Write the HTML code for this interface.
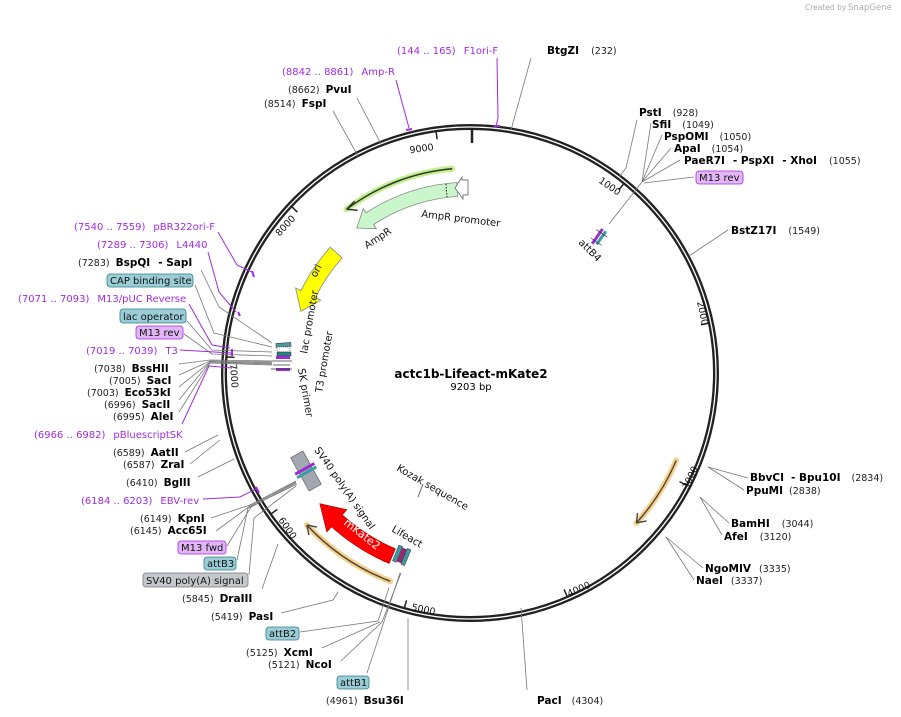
<!DOCTYPE html>
<html><head><meta charset="utf-8"><style>
html,body{margin:0;padding:0;background:#fff;}
svg{display:block;font-family:"DejaVu Sans","Liberation Sans",sans-serif;}
.b{font-weight:bold;font-size:10.5px;fill:#000}
.n{font-size:9.5px;fill:#222}
.p{font-size:10px;fill:#a02be0}
.l{stroke:#777;stroke-width:0.8;fill:none}
.pl{stroke:#a02be0;stroke-width:1;fill:none}
.f{font-size:10px;fill:#111}
.bx{font-size:10px;fill:#111}
</style></head><body>
<svg width="901" height="717" viewBox="0 0 901 717" xmlns="http://www.w3.org/2000/svg">
<text x="805" y="10" font-size="7.5" fill="#aaa">Created by</text><text x="848" y="10" font-size="8.5" fill="#aaa">SnapGene</text>

<circle cx="470" cy="373" r="246" fill="none" stroke="#222" stroke-width="6"/>
<circle cx="470" cy="373" r="246" fill="none" stroke="#fff" stroke-width="1.3"/>
<line x1="472" y1="128" x2="472" y2="143" stroke="#222" stroke-width="2.5"/>
<g stroke="#222" stroke-width="1.5">
<line x1="470" y1="129" x2="470" y2="137" transform="rotate(39.1 470 373)"/>
<line x1="470" y1="129" x2="470" y2="137" transform="rotate(78.2 470 373)"/>
<line x1="470" y1="129" x2="470" y2="137" transform="rotate(117.4 470 373)"/>
<line x1="470" y1="129" x2="470" y2="137" transform="rotate(156.5 470 373)"/>
<line x1="470" y1="129" x2="470" y2="137" transform="rotate(195.6 470 373)"/>
<line x1="470" y1="129" x2="470" y2="137" transform="rotate(234.7 470 373)"/>
<line x1="470" y1="129" x2="470" y2="137" transform="rotate(273.8 470 373)"/>
<line x1="470" y1="129" x2="470" y2="137" transform="rotate(313 470 373)"/>
<line x1="470" y1="129" x2="470" y2="137" transform="rotate(352 470 373)"/>
</g>
<g font-size="9.5" fill="#111">
<text x="434" y="150" text-anchor="end" transform="rotate(-8 434 150)">9000</text>
<text x="296" y="219" text-anchor="end" transform="rotate(-47 296 219)">8000</text>
<text x="230" y="364" transform="rotate(86 230 364)">7000</text>
<text x="278" y="520" transform="rotate(55 278 520)">6000</text>
<text x="411" y="610" transform="rotate(12 411 610)">5000</text>
<text x="569" y="597" transform="rotate(-24 569 597)">4000</text>
<text x="688" y="490" transform="rotate(-65 688 490)">3000</text>
<text x="697" y="302" transform="rotate(78 697 302)">2000</text>
<text x="598" y="182" transform="rotate(35 598 182)">1000</text>
</g>

<path d="M452.1,168.8 A205,205 0 0 0 346.6,209.3" fill="none" stroke="#bff08a" stroke-width="6" stroke-linecap="round"/>
<path d="M452.1,168.8 A205,205 0 0 0 346.6,209.3" fill="none" stroke="#333" stroke-width="1.5"/>
<path d="M346.6,209.3 l8,-8 M346.6,209.3 l11,1" stroke="#333" stroke-width="1.5"/>
<path d="M456.7,182.5 A191,191 0 0 0 366,212.8 L363.3,208.6 L356.7,228 L376.3,228.7 L373.6,224.5 A177,177 0 0 1 457.6,196.4 Z" fill="#c9f7cb" stroke="#888" stroke-width="0.8"/>
<line x1="446" y1="184" x2="447" y2="197" stroke="#222" stroke-dasharray="1.5,1.5"/>
<path d="M468,180 L468,195 L463,195 L463,199 L455,188 L462,177 L462,180 Z" fill="#fff" stroke="#777" stroke-width="0.9"/>
<text x="421" y="217" class="f" transform="rotate(7 421 217)">AmpR promoter</text>
<text x="367" y="249" class="f" transform="rotate(-33 367 249)">AmpR</text>
<path d="M330.3,247.2 A188,188 0 0 0 301,290.6 L295.6,288 L300.9,311.4 L320.8,300.2 L315.4,297.6 A172,172 0 0 1 342.2,257.9 Z" fill="#ffff00" stroke="#888" stroke-width="0.8"/>
<text x="316" y="278" class="f" transform="rotate(-62 316 278)">ori</text>
<text x="307" y="354" class="f" transform="rotate(-80 307 354)">lac promoter</text>
<text x="322" y="393" class="f" transform="rotate(-80 322 393)">T3 promoter</text>
<text x="298" y="369" class="f" transform="rotate(80 298 369)">SK primer</text>
<g>
<rect x="276" y="343" width="15" height="4" fill="#4a9aa6" stroke="#333" stroke-width="0.5" transform="rotate(-4 283 345)"/>
<rect x="277" y="347" width="13" height="5" fill="#fff" stroke="#333" stroke-width="0.5" stroke-dasharray="1,1"/>
<rect x="277" y="352" width="14" height="4" fill="#2d7f8a" stroke="#333" stroke-width="0.5"/>
<rect x="276" y="356" width="14" height="3" fill="#9a2fd0"/>
<line x1="272" y1="361" x2="292" y2="361" stroke="#333" stroke-width="0.8"/>
<line x1="273" y1="365" x2="290" y2="365" stroke="#333" stroke-width="0.8"/>
<rect x="276" y="368" width="14" height="3" fill="#9a2fd0"/>
<line x1="271" y1="369" x2="292" y2="369" stroke="#333" stroke-width="0.8"/>
</g>
<g transform="rotate(-55 600 237)">
<rect x="590" y="233" width="18" height="3" fill="#9a2fd0"/>
<rect x="592" y="237" width="16" height="3" fill="#3a9aa6"/>
<line x1="594" y1="230" x2="594" y2="243" stroke="#333" stroke-width="0.7"/>
<line x1="604" y1="230" x2="604" y2="243" stroke="#333" stroke-width="0.7"/>
</g>
<text x="578" y="243" class="f" transform="rotate(45 578 243)">attB4</text>
<rect x="299" y="452" width="14" height="38" fill="#a3a8b0" stroke="#666" stroke-width="0.7" transform="rotate(-29 306 471)"/>
<rect x="295" y="467" width="22" height="3" fill="#9a2fd0" transform="rotate(-29 306 471)"/>
<rect x="295" y="471" width="22" height="3" fill="#3a9aa6" transform="rotate(-29 306 471)"/>
<text x="314" y="450" class="f" transform="rotate(55 314 450)">SV40 poly(A) signal</text>
<text x="396" y="470" class="f" transform="rotate(30 396 470)">Kozak sequence</text>
<line x1="423" y1="484" x2="418" y2="497" stroke="#444" stroke-width="0.8"/>
<text x="391" y="531" class="f" transform="rotate(30 391 531)">Lifeact</text>
<path d="M390.1,581.2 A223,223 0 0 1 306.9,525.1" fill="none" stroke="#f7cf86" stroke-width="6" stroke-linecap="round"/>
<path d="M390.1,581.2 A223,223 0 0 1 306.9,525.1" fill="none" stroke="#444" stroke-width="1.4"/>
<path d="M306.9,525.1 l2,10 M306.9,525.1 l10,2" stroke="#444" stroke-width="1.4"/>
<path d="M676.2,460.5 A224,224 0 0 1 636.5,522.9" fill="none" stroke="#f7cf86" stroke-width="6" stroke-linecap="round"/>
<path d="M676.2,460.5 A224,224 0 0 1 636.5,522.9" fill="none" stroke="#444" stroke-width="1.4"/>
<path d="M636.5,522.9 l1,-10 M636.5,522.9 l10,-2" stroke="#444" stroke-width="1.4"/>
<path d="M389.1,563.5 A207,207 0 0 1 331.5,526.8 L326.8,532 L319.8,503.6 L346.9,509.7 L342.2,514.9 A191,191 0 0 0 395.4,548.8 Z" fill="#f00" stroke="#900" stroke-width="0.6"/>
<text x="343" y="524" font-size="11" fill="#fff" transform="rotate(38 343 524)">mKate2</text>
<g transform="rotate(22 402 556)">
<rect x="395" y="547" width="4" height="17" fill="#3a9aa6" stroke="#333" stroke-width="0.5"/>
<rect x="399" y="548" width="5" height="15" fill="#9a2b6b"/>
<rect x="404" y="547" width="4" height="17" fill="#3a9aa6" stroke="#333" stroke-width="0.5"/>
</g>

<text x="471" y="378" text-anchor="middle" font-size="12" font-weight="bold">actc1b-Lifeact-mKate2</text>
<text x="471" y="390" text-anchor="middle" font-size="10">9203 bp</text>

<text x="397" y="54" class="p">(144 .. 165)<tspan dx="8">F1ori-F</tspan></text>
<polyline class="pl" points="497,58 498,118 496,126"/>
<line x1="494" y1="126" x2="500" y2="126" stroke="#a02be0" stroke-width="2"/>
<text x="282" y="75" class="p">(8842 .. 8861)<tspan dx="8">Amp-R</tspan></text>
<polyline class="pl" points="396,80 409,128"/>
<line x1="406" y1="130" x2="412" y2="129" stroke="#a02be0" stroke-width="2"/>
<text x="288" y="93"><tspan class="n">(8662)</tspan><tspan class="b" dx="6">PvuI</tspan></text>
<line class="l" x1="357" y1="98" x2="381" y2="144"/>
<text x="264" y="107"><tspan class="n">(8514)</tspan><tspan class="b" dx="6">FspI</tspan></text>
<line class="l" x1="333" y1="111" x2="358" y2="156"/>
<text x="547" y="54"><tspan class="b">BtgZI</tspan><tspan class="n" dx="12">(232)</tspan></text>
<line class="l" x1="531" y1="58" x2="511" y2="130"/>

<text x="639" y="116"><tspan class="b">PstI</tspan><tspan class="n" dx="11">(928)</tspan></text>
<polyline class="l" points="637,120 626,168 620,176"/>
<text x="652" y="128"><tspan class="b">SfiI</tspan><tspan class="n" dx="11">(1049)</tspan></text>
<text x="664" y="140"><tspan class="b">PspOMI</tspan><tspan class="n" dx="11">(1050)</tspan></text>
<text x="674" y="152"><tspan class="b">ApaI</tspan><tspan class="n" dx="11">(1054)</tspan></text>
<text x="684" y="164"><tspan class="b">PaeR7I</tspan><tspan class="b" dx="8">- PspXI</tspan><tspan class="b" dx="8">- XhoI</tspan><tspan class="n" dx="12">(1055)</tspan></text>
<rect x="696" y="171" width="47" height="13" rx="3" fill="#e2b6f5" stroke="#a02be0" stroke-width="0.8"/>
<text x="699" y="181" class="bx">M13 rev</text>
<line class="l" x1="651" y1="123" x2="642" y2="182"/>
<line class="l" x1="662" y1="135" x2="642" y2="182"/>
<line class="l" x1="671" y1="148" x2="642" y2="182"/>
<line class="l" x1="680" y1="160" x2="642" y2="182"/>
<line class="l" x1="694" y1="177" x2="644" y2="183"/>
<line class="l" x1="642" y1="182" x2="609" y2="224"/>
<text x="731" y="234"><tspan class="b">BstZ17I</tspan><tspan class="n" dx="12">(1549)</tspan></text>
<line class="l" x1="728" y1="230" x2="689" y2="256"/>
<text x="750" y="481"><tspan class="b">BbvCI</tspan><tspan class="b" dx="7">- Bpu10I</tspan><tspan class="n" dx="11">(2834)</tspan></text>
<text x="746" y="494"><tspan class="b">PpuMI</tspan><tspan class="n" dx="6">(2838)</tspan></text>
<line class="l" x1="748" y1="478" x2="708" y2="467"/>
<line class="l" x1="744" y1="490" x2="708" y2="467"/>
<text x="731" y="527"><tspan class="b">BamHI</tspan><tspan class="n" dx="12">(3044)</tspan></text>
<text x="724" y="540"><tspan class="b">AfeI</tspan><tspan class="n" dx="12">(3120)</tspan></text>
<line class="l" x1="729" y1="523" x2="700" y2="497"/>
<line class="l" x1="722" y1="535" x2="700" y2="497"/>
<text x="705" y="572"><tspan class="b">NgoMIV</tspan><tspan class="n" dx="8">(3335)</tspan></text>
<text x="696" y="584"><tspan class="b">NaeI</tspan><tspan class="n" dx="8">(3337)</tspan></text>
<line class="l" x1="703" y1="568" x2="666" y2="537"/>
<line class="l" x1="694" y1="580" x2="666" y2="537"/>
<text x="537" y="704"><tspan class="b">PacI</tspan><tspan class="n" dx="10">(4304)</tspan></text>
<line class="l" x1="527" y1="690" x2="521" y2="608"/>

<text x="74" y="230" class="p">(7540 .. 7559)<tspan dx="8">pBR322ori-F</tspan></text>
<polyline class="pl" points="218,232 237,265 252,272"/>
<line x1="252" y1="271" x2="254" y2="277" stroke="#a02be0" stroke-width="2"/>
<text x="97" y="248" class="p">(7289 .. 7306)<tspan dx="8">L4440</tspan></text>
<polyline class="pl" points="208,252 219,292 236,312"/>
<line x1="238" y1="312" x2="240" y2="316" stroke="#a02be0" stroke-width="2"/>
<text x="78" y="266"><tspan class="n">(7283)</tspan><tspan class="b" dx="6">BspQI</tspan><tspan class="b" dx="8">- SapI</tspan></text>
<polyline class="l" points="201,270 219,307 272,343"/>
<rect x="107" y="274" width="86" height="13" rx="3" fill="#9bcdd6" stroke="#2d7f8a" stroke-width="0.8"/>
<text x="110" y="284" class="bx">CAP binding site</text>
<polyline class="l" points="195,285 214,333 272,347"/>
<text x="18" y="302" class="p">(7071 .. 7093)<tspan dx="8">M13/pUC Reverse</tspan></text>
<polyline class="pl" points="189,304 212,345 230,348"/>
<rect x="120" y="309" width="66" height="14" rx="3" fill="#9bcdd6" stroke="#2d7f8a" stroke-width="0.8"/>
<text x="123" y="320" class="bx">lac operator</text>
<polyline class="l" points="187,321 212,350 272,352"/>
<rect x="136" y="326" width="47" height="13" rx="3" fill="#e2b6f5" stroke="#a02be0" stroke-width="0.8"/>
<text x="139" y="336" class="bx">M13 rev</text>
<polyline class="l" points="184,334 212,354 272,356"/>
<text x="86" y="354" class="p">(7019 .. 7039)<tspan dx="8">T3</tspan></text>
<polyline class="pl" points="180,350 232,353"/>
<line x1="232" y1="349" x2="232" y2="356" stroke="#a02be0" stroke-width="2"/>
<text x="94" y="372"><tspan class="n">(7038)</tspan><tspan class="b" dx="6">BssHII</tspan></text>
<text x="109" y="384"><tspan class="n">(7005)</tspan><tspan class="b" dx="6">SacI</tspan></text>
<text x="87" y="396"><tspan class="n">(7003)</tspan><tspan class="b" dx="6">Eco53kI</tspan></text>
<text x="104" y="408"><tspan class="n">(6996)</tspan><tspan class="b" dx="6">SacII</tspan></text>
<text x="113" y="420"><tspan class="n">(6995)</tspan><tspan class="b" dx="6">AleI</tspan></text>
<polyline class="l" points="179,364 210,360 272,361"/>
<polyline class="l" points="179,375 210,361 272,362"/>
<polyline class="l" points="179,387 210,362 272,363"/>
<polyline class="l" points="179,400 210,362 272,364"/>
<polyline class="l" points="179,412 210,363 272,365"/>
<polyline class="pl" points="182,424 209,366 232,368"/>
<text x="34" y="438" class="p">(6966 .. 6982)<tspan dx="8">pBluescriptSK</tspan></text>
<text x="113" y="456"><tspan class="n">(6589)</tspan><tspan class="b" dx="6">AatII</tspan></text>
<line class="l" x1="185" y1="452" x2="218" y2="435"/>
<text x="123" y="468"><tspan class="n">(6587)</tspan><tspan class="b" dx="6">ZraI</tspan></text>
<line class="l" x1="190" y1="464" x2="220" y2="440"/>
<text x="126" y="486"><tspan class="n">(6410)</tspan><tspan class="b" dx="6">BglII</tspan></text>
<line class="l" x1="198" y1="477" x2="234" y2="459"/>
<text x="81" y="504" class="p">(6184 .. 6203)<tspan dx="8">EBV-rev</tspan></text>
<polyline class="pl" points="203,499 240,497 256,489"/>
<line x1="256" y1="487" x2="259" y2="493" stroke="#a02be0" stroke-width="2"/>
<text x="140" y="522"><tspan class="n">(6149)</tspan><tspan class="b" dx="6">KpnI</tspan></text>
<text x="130" y="534"><tspan class="n">(6145)</tspan><tspan class="b" dx="6">Acc65I</tspan></text>
<polyline class="l" points="211,518 250,505 296,481"/>
<polyline class="l" points="216,531 250,506 296,482"/>
<rect x="178" y="541" width="48" height="13" rx="3" fill="#e2b6f5" stroke="#a02be0" stroke-width="0.8"/>
<text x="181" y="551" class="bx">M13 fwd</text>
<polyline class="l" points="227,546 251,507 296,483"/>
<rect x="204" y="557" width="32" height="13" rx="3" fill="#9bcdd6" stroke="#2d7f8a" stroke-width="0.8"/>
<text x="207" y="567" class="bx">attB3</text>
<polyline class="l" points="237,560 248,508 297,484"/>
<rect x="143" y="573" width="105" height="14" rx="3" fill="#c4c7cc" stroke="#777" stroke-width="0.8"/>
<text x="146" y="584" class="bx">SV40 poly(A) signal</text>
<polyline class="l" points="249,575 254,518 296,486"/>
<text x="182" y="602"><tspan class="n">(5845)</tspan><tspan class="b" dx="6">DraIII</tspan></text>
<line class="l" x1="262" y1="589" x2="278" y2="544"/>
<text x="211" y="620"><tspan class="n">(5419)</tspan><tspan class="b" dx="6">PasI</tspan></text>
<polyline class="l" points="281,613 333,600 338,592"/>
<rect x="266" y="627" width="33" height="13" rx="3" fill="#9bcdd6" stroke="#2d7f8a" stroke-width="0.8"/>
<text x="269" y="637" class="bx">attB2</text>
<polyline class="l" points="300,632 378,621 389,588"/>
<text x="246" y="656"><tspan class="n">(5125)</tspan><tspan class="b" dx="6">XcmI</tspan></text>
<text x="268" y="668"><tspan class="n">(5121)</tspan><tspan class="b" dx="6">NcoI</tspan></text>
<polyline class="l" points="322,648 380,622"/>
<polyline class="l" points="341,661 382,622 401,573"/>
<rect x="337" y="676" width="32" height="13" rx="3" fill="#9bcdd6" stroke="#2d7f8a" stroke-width="0.8"/>
<text x="340" y="686" class="bx">attB1</text>
<line class="l" x1="367" y1="673" x2="400" y2="573"/>
<text x="326" y="704"><tspan class="n">(4961)</tspan><tspan class="b" dx="6">Bsu36I</tspan></text>
<line x1="408" y1="690" x2="408" y2="618" stroke="#999" stroke-width="1"/>
</svg>
</body></html>
